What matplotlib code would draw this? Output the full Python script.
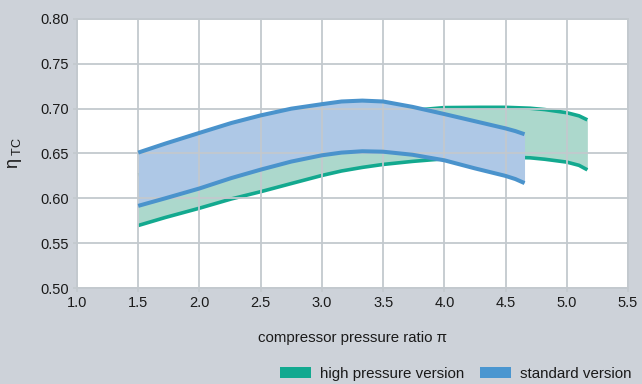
import matplotlib
matplotlib.use("Agg")
import matplotlib.pyplot as plt
from matplotlib.patches import Patch

plt.rcParams['font.family'] = ['Liberation Sans', 'DejaVu Sans']
plt.rcParams['mathtext.fontset'] = 'custom'
plt.rcParams['mathtext.rm'] = 'Liberation Sans'
plt.rcParams['mathtext.it'] = 'Liberation Sans'

# standard version band
std_x = [1.5, 1.72, 2.0, 2.26, 2.5, 2.75, 3.0, 3.16, 3.33, 3.5, 3.74, 4.0, 4.25, 4.5, 4.58, 4.655]
std_upper = [0.651, 0.661, 0.673, 0.684, 0.6925, 0.7, 0.705, 0.708, 0.709, 0.708, 0.702, 0.694, 0.686, 0.678, 0.675, 0.6715]
std_lower = [0.5916, 0.600, 0.611, 0.6226, 0.632, 0.641, 0.648, 0.651, 0.6525, 0.652, 0.6486, 0.6424, 0.6334, 0.625, 0.6215, 0.617]

# high pressure version band
hp_x = [1.5, 1.72, 2.0, 2.26, 2.5, 2.75, 3.0, 3.16, 3.33, 3.5, 3.74, 3.9, 4.0, 4.3, 4.5, 4.7, 4.82, 5.0, 5.1, 5.168]
hp_upper = [0.626, 0.636, 0.648, 0.658, 0.666, 0.674, 0.681, 0.685, 0.689, 0.693, 0.698, 0.700, 0.7012, 0.7015, 0.7015, 0.7005, 0.699, 0.6955, 0.692, 0.6875]
hp_lower = [0.5697, 0.5786, 0.589, 0.5993, 0.6074, 0.6165, 0.6255, 0.6305, 0.6345, 0.6378, 0.6412, 0.6430, 0.644, 0.6455, 0.646, 0.6452, 0.6436, 0.6404, 0.6368, 0.6318]

x_ticks = [1.0, 1.5, 2.0, 2.5, 3.0, 3.5, 4.0, 4.5, 5.0, 5.5]
y_ticks = [0.50, 0.55, 0.60, 0.65, 0.70, 0.75, 0.80]
series_names = ["high pressure version", "standard version"]

bg = '#cdd2d9'
grid_c = '#c3c9ce'
blue_line = '#4a93cc'
blue_fill = '#aec8e6'
green_line = '#13a98f'
green_fill = '#acd8cc'

fig = plt.figure(figsize=(6.42, 3.84), dpi=100, facecolor=bg)
ax = fig.add_axes([77/642, 1-288/384, 551/642, 269/384])
ax.set_facecolor('white')

ax.fill_between(hp_x, hp_lower, hp_upper, color=green_fill, lw=0, zorder=2)
ax.plot(hp_x, hp_upper, color=green_line, lw=2.6, solid_capstyle='butt', solid_joinstyle='round', zorder=3)
ax.plot(hp_x, hp_lower, color=green_line, lw=2.6, solid_capstyle='butt', solid_joinstyle='round', zorder=3)
ax.fill_between(std_x, std_lower, std_upper, color=blue_fill, lw=0, zorder=4)
ax.plot(std_x, std_upper, color=blue_line, lw=2.9, solid_capstyle='butt', solid_joinstyle='round', zorder=9)
ax.plot(std_x, std_lower, color=blue_line, lw=2.9, solid_capstyle='butt', solid_joinstyle='round', zorder=9)

ax.set_xlim(1.0, 5.5)
ax.set_ylim(0.50, 0.80)
ax.set_xticks(x_ticks)
ax.set_yticks(y_ticks)
ax.set_xticklabels([f"{v:.1f}" for v in x_ticks])
ax.set_yticklabels([f"{v:.2f}" for v in y_ticks])
ax.set_axisbelow(False)
ax.grid(True, color=grid_c, lw=1.3)
ax.xaxis.set_zorder(6)
ax.yaxis.set_zorder(6)
for s in ax.spines.values():
    s.set_color(grid_c)
    s.set_linewidth(1.3)
    s.set_zorder(6)
ax.tick_params(axis='both', length=3, width=1.2, color=grid_c, labelsize=10.5, labelcolor='#1a1a1a', pad=3)

ax.set_xlabel("compressor pressure ratio π", fontsize=10.8, color='#1a1a1a')
ax.xaxis.set_label_coords(0.5, -(331-288)/269)
ax.set_ylabel(r"$\mathrm{\eta}_{\mathrm{\ TC}}$", fontsize=13, color='#1a1a1a')
ax.yaxis.set_label_coords(-(77-24)/551, 0.50)

handles = [Patch(facecolor='#12a990', edgecolor='none'), Patch(facecolor='#4a96d0', edgecolor='none')]
fig.legend(handles, series_names, loc='center right', bbox_to_anchor=(632/642, 1-374/384),
           ncol=2, frameon=False, fontsize=10.9, handlelength=2.05, handleheight=0.75,
           handletextpad=0.6, columnspacing=1.05, borderpad=0, borderaxespad=0,
           labelcolor='#1a1a1a')

fig.savefig("out.png", dpi=100, facecolor=bg)
